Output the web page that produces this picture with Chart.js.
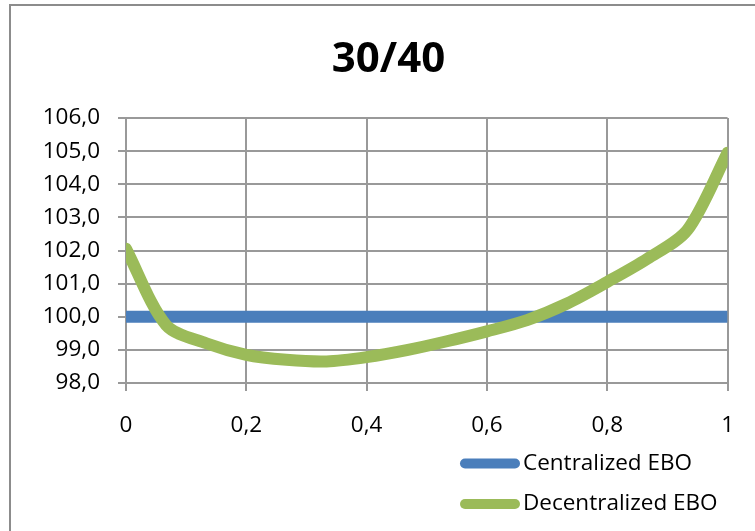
<!DOCTYPE html>
<html>
<head>
<meta charset="utf-8">
<script src="https://cdn.jsdelivr.net/npm/chart.js@4/dist/chart.umd.min.js"></script>
<style>
  html, body { margin: 0; padding: 0; background: #ffffff; }
  #wrap { width: 755px; height: 531px; position: relative; overflow: hidden; }
  canvas { display: block; }
</style>
</head>
<body>
<div id="wrap"><canvas id="chart" width="755" height="531"></canvas></div>
<script>
// Chart content
const chartTitle = '30/40';
const seriesNames = ['Centralized EBO', 'Decentralized EBO'];
const seriesColors = ['#4a7ebb', '#9bbb59'];

// Share parameter (x) and EBO values
const xValues = [0, 1/15, 2/15, 3/15, 4/15, 5/15, 6/15, 7/15, 8/15, 9/15, 10/15, 11/15, 12/15, 13/15, 14/15, 1];
const centralizedEBO = [100, 100, 100, 100, 100, 100, 100, 100, 100, 100, 100, 100, 100, 100, 100, 100];
const decentralizedEBO = [102.05, 99.75, 99.2, 98.85, 98.7, 98.65, 98.78, 98.99, 99.26, 99.56, 99.9, 100.4, 101.05, 101.75, 102.62, 104.95];

// Axis tick labels (decimal comma)
const xTickLabels = ['0', '0,2', '0,4', '0,6', '0,8', '1'];
const yTickLabels = ['98,0', '99,0', '100,0', '101,0', '102,0', '103,0', '104,0', '105,0', '106,0'];

const FONT = "'Open Sans', 'Liberation Sans', sans-serif";
const GRID = '#999999';

function toPoints(xs, ys) {
  return xs.map((x, i) => ({ x: x, y: ys[i] }));
}

// Outer frame of the chart object and the centred title
const framePlugin = {
  id: 'frame',
  beforeDraw(chart) {
    const ctx = chart.ctx;
    ctx.save();
    ctx.fillStyle = '#ffffff';
    ctx.fillRect(0, 0, chart.width, chart.height);
    ctx.strokeStyle = '#8c8c8c';
    ctx.lineWidth = 2;
    ctx.strokeRect(10, 5, chart.width + 50, chart.height + 50);
    ctx.fillStyle = '#000000';
    ctx.font = 'bold 42px ' + FONT;
    ctx.textAlign = 'center';
    ctx.textBaseline = 'alphabetic';
    ctx.fillText(chartTitle, 388.5, 71.5);
    ctx.restore();
  }
};

// Stacked legend below the plot, right side
const stackedLegend = {
  id: 'stackedLegend',
  afterDraw(chart) {
    const ctx = chart.ctx;
    ctx.save();
    chart.data.datasets.forEach((ds, i) => {
      const y = 463.5 + i * 40.5;
      ctx.strokeStyle = ds.borderColor;
      ctx.lineWidth = 10;
      ctx.lineCap = 'round';
      ctx.beginPath();
      ctx.moveTo(465, y);
      ctx.lineTo(515, y);
      ctx.stroke();
      ctx.fillStyle = '#000000';
      ctx.font = '22.5px ' + FONT;
      ctx.textAlign = 'left';
      ctx.textBaseline = 'middle';
      ctx.fillText(ds.label, 523, y);
    });
    ctx.restore();
  }
};

new Chart(document.getElementById('chart'), {
  type: 'line',
  data: {
    datasets: [
      {
        label: seriesNames[0],
        data: toPoints(xValues, centralizedEBO),
        borderColor: seriesColors[0],
        backgroundColor: seriesColors[0],
        borderWidth: 12,
        borderCapStyle: 'butt',
        pointRadius: 0,
        tension: 0,
        order: 2
      },
      {
        label: seriesNames[1],
        data: toPoints(xValues, decentralizedEBO),
        borderColor: seriesColors[1],
        backgroundColor: seriesColors[1],
        borderWidth: 12,
        borderCapStyle: 'round',
        borderJoinStyle: 'round',
        pointRadius: 0,
        tension: 0.3,
        order: 1
      }
    ]
  },
  options: {
    responsive: false,
    animation: false,
    devicePixelRatio: 1,
    layout: { padding: { left: 10, top: 118, right: 25, bottom: 88 } },
    plugins: {
      legend: { display: false },
      tooltip: { enabled: false },
      title: { display: false }
    },
    scales: {
      x: {
        type: 'linear',
        min: 0,
        max: 1,
        afterFit(axis) { axis.height = 60; },
        ticks: {
          stepSize: 0.2,
          color: '#000000',
          padding: 21,
          maxRotation: 0,
          font: { family: FONT, size: 22.5 },
          callback: (v, i) => xTickLabels[i]
        },
        grid: { color: GRID, lineWidth: 2, tickLength: 8, tickColor: GRID },
        border: { color: GRID, width: 2 }
      },
      y: {
        min: 98,
        max: 106,
        afterFit(axis) { axis.width = 116; },
        ticks: {
          stepSize: 1,
          color: '#000000',
          padding: 18,
          font: { family: FONT, size: 22.5 },
          callback: (v, i) => yTickLabels[i]
        },
        grid: { color: GRID, lineWidth: 2, tickLength: 8, tickColor: GRID },
        border: { color: GRID, width: 2 }
      }
    }
  },
  plugins: [framePlugin, stackedLegend]
});
</script>
</body>
</html>
